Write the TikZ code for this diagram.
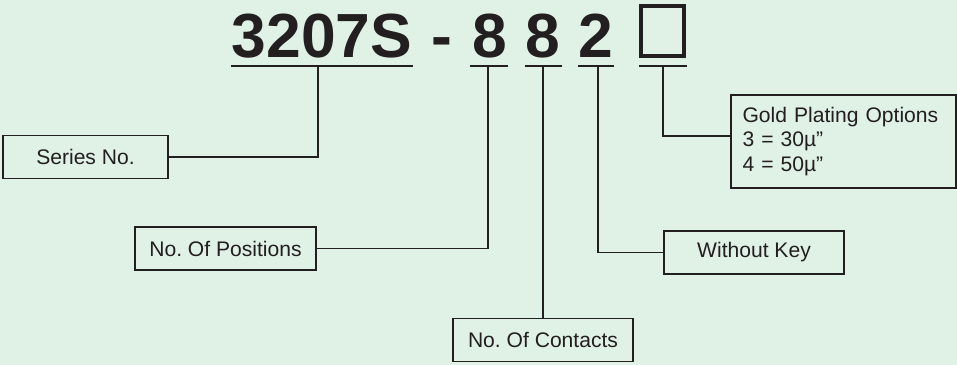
\documentclass[tikz,border=0pt]{standalone}
\usepackage{fontspec}
\setmainfont{Liberation Sans}
\usetikzlibrary{positioning}
\definecolor{ink}{HTML}{231F20}
\definecolor{paper}{HTML}{E0F1E6}
\frenchspacing

\begin{document}
\begin{tikzpicture}[
  x=0.02cm, y=-0.02cm,
  text=ink,
  part/.style={font=\fontsize{35.5}{40}\selectfont\bfseries, anchor=base, inner sep=0pt},
  box/.style={draw=ink, line width=1.1pt, fill=paper, inner sep=0pt,
    font=\fontsize{12}{14.2}\selectfont, minimum height=0.86cm},
  wire/.style={draw=ink, line width=1.1pt},
  rule/.style={draw=ink, line width=1.3pt}
]
  \fill[paper] (0,0) rectangle (957,365);
  \useasboundingbox (0,0) rectangle (957,365);

  % part number
  \node[part] (series) at (322,57) {3207S};
  \node[part] (dash) at (442,57) {-};
  \node[part] (positions) at (489.5,57) {8};
  \node[part] (contacts) at (543,57) {8};
  \node[part] (nokey) at (595.5,57) {2};
  \node[draw=ink, line width=2.3pt, minimum width=0.86cm, minimum height=1.0cm,
    inner sep=0pt] (plating) at (662.5,31) {};

  \draw[rule] (231,66) -- (413,66);
  \draw[rule] (470,66) -- (508,66);
  \draw[rule] (525,66) -- (562,66);
  \draw[rule] (578,66) -- (614,66);
  \draw[rule] (639,66) -- (687,66);
  \coordinate (t1) at (318,66);
  \coordinate (t2) at (488,66);
  \coordinate (t3) at (543,66);
  \coordinate (t4) at (598,66);
  \coordinate (t5) at (663,66);

  % explanations
  \node[box, minimum width=3.3cm] (seriesbox) at (85.5,157) {Series No.};
  \node[box, minimum width=3.62cm] (posbox) at (225.5,248.5) {No. Of Positions};
  \node[box, minimum width=3.6cm] (contbox) at (543,340) {No. Of Contacts};
  \node[box, minimum width=3.6cm] (keybox) at (754,252.5) {Without Key};
  \node[box, align=left, text width=4.04cm, inner xsep=0.23cm, minimum height=1.86cm]
    (goldbox) at (843.5,141.5)
    {Gold Plating Options\\3 = 30µ”\\4 = 50µ”};

  \draw[wire] (t1) |- (seriesbox.east);
  \draw[wire] (t2) |- (posbox.east);
  \draw[wire] (t3) -- (contbox.north);
  \draw[wire] (t4) |- (keybox.west);
  \draw[wire] (t5) |- ([yshift=0.11cm]goldbox.west);
\end{tikzpicture}
\end{document}
